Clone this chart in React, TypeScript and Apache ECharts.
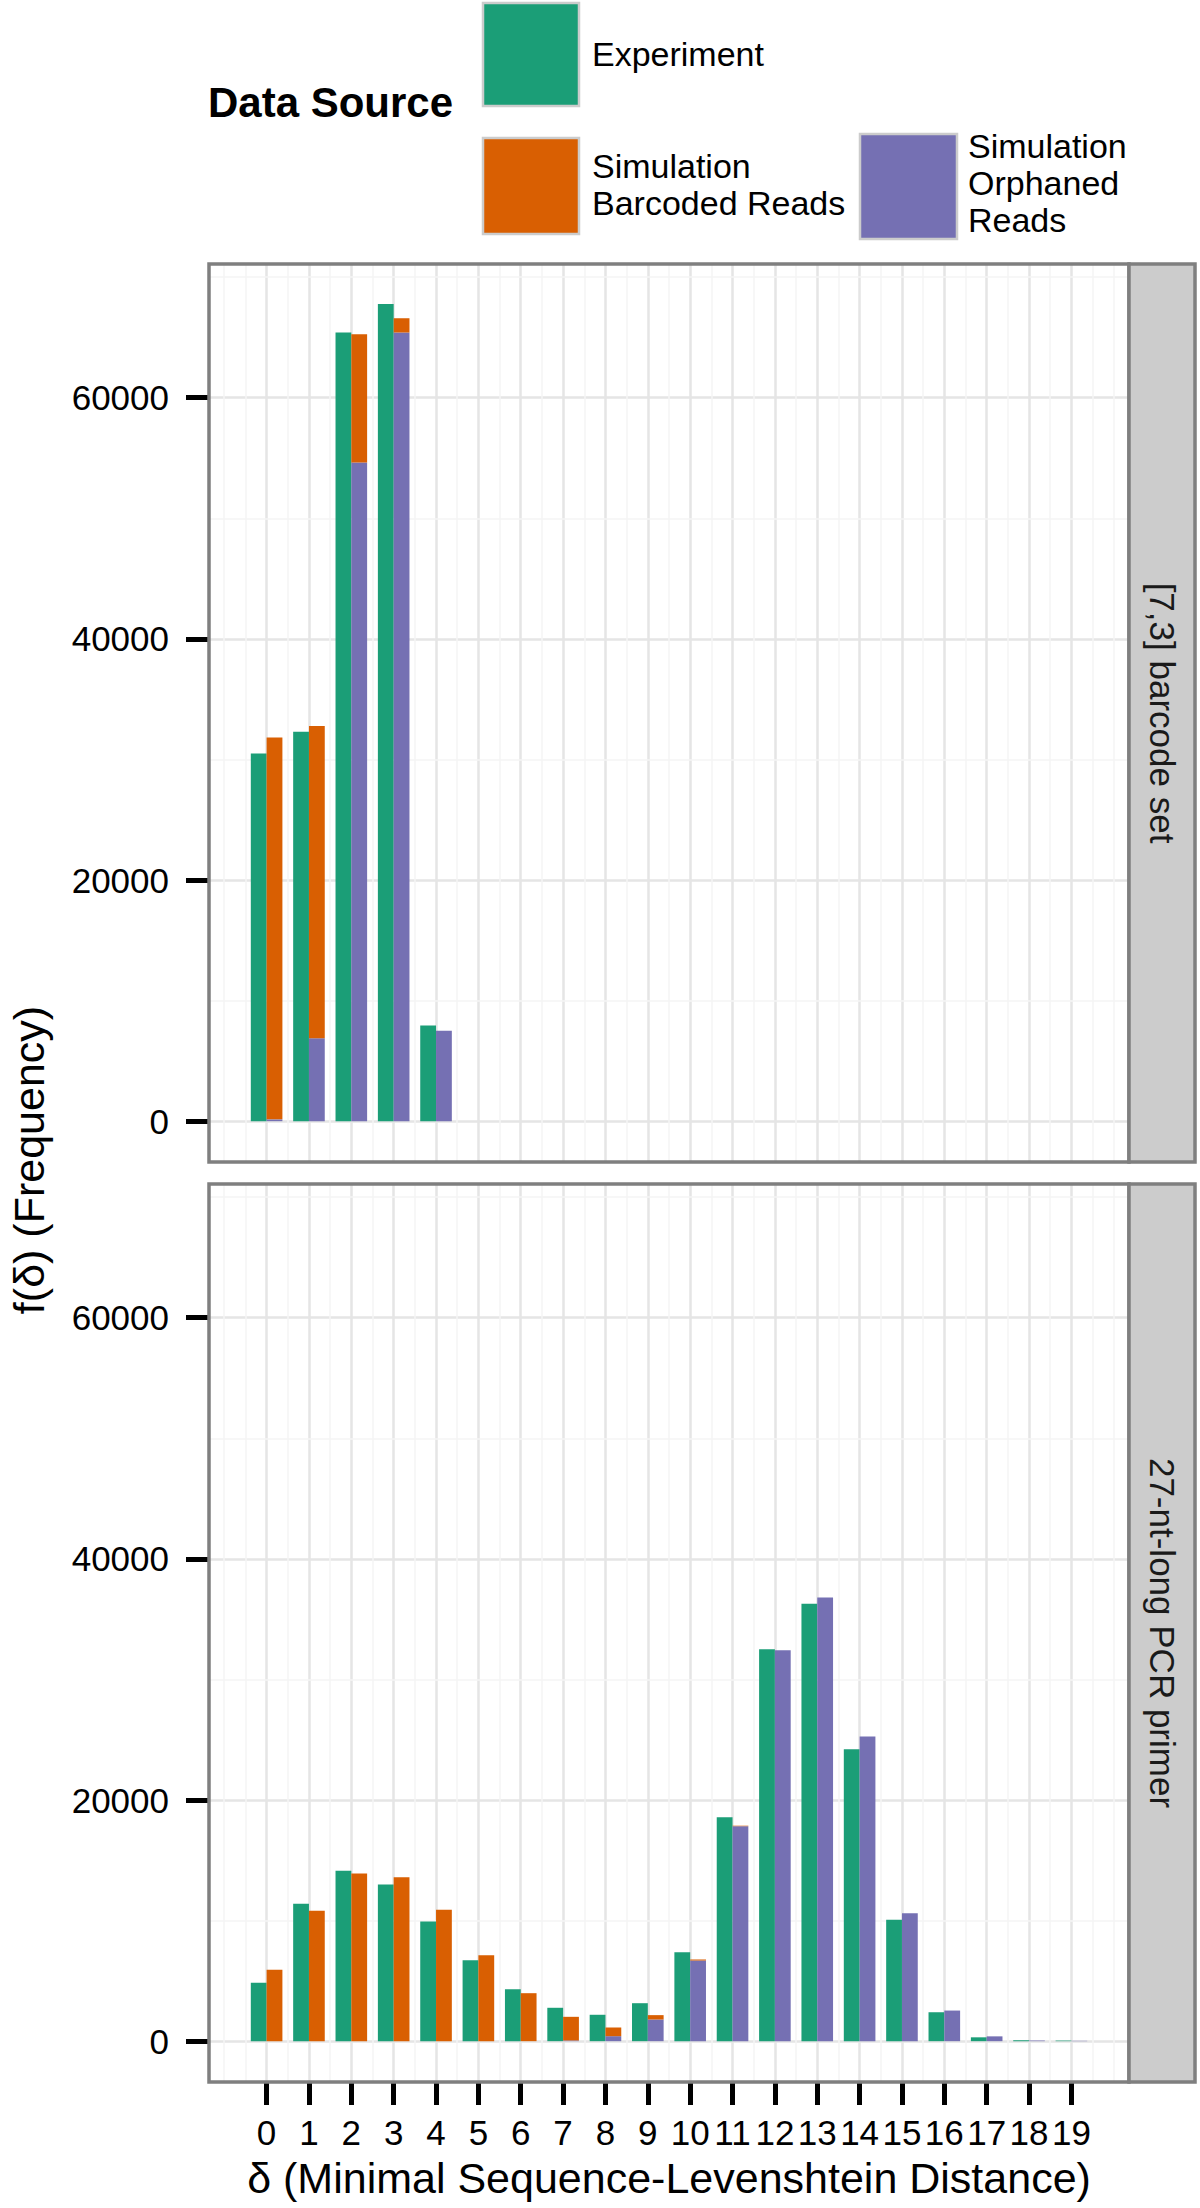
import React, { useEffect, useRef } from 'react';
import * as echarts from 'echarts';

// ---------- data ----------
const deltas = [0, 1, 2, 3, 4, 5, 6, 7, 8, 9, 10, 11, 12, 13, 14, 15, 16, 17, 18, 19];
const xTickValues = [0, 1, 2, 3, 4, 5, 6, 7, 8, 9, 10, 11, 12, 13, 14, 15, 16, 17, 18, 19];
const yTickValues = [0, 20000, 40000, 60000];
const xMinorGrid = [-1, -0.5, 0.5, 1.5, 2.5, 3.5, 4.5, 5.5, 6.5, 7.5, 8.5, 9.5, 10.5, 11.5, 12.5, 13.5, 14.5, 15.5, 16.5, 17.5, 18.5, 19.5, 20];
const yMinorGrid = [10000, 30000, 50000, 70000];

const panelLabels = ['[7,3] barcode set', '27-nt-long PCR primer'];
const sourceNames = ['Experiment', 'Simulation Barcoded Reads', 'Simulation Orphaned Reads'];
const legendLabels = ['Experiment', 'Simulation\nBarcoded Reads', 'Simulation\nOrphaned\nReads'];

// [7,3] barcode set panel
const topExperiment = [30490, 32296, 65404, 67778, 7927, 0, 0, 0, 0, 0, 0, 0, 0, 0, 0, 0, 0, 0, 0, 0];
const topOrphaned = [150, 6885, 54622, 65404, 7497, 0, 0, 0, 0, 0, 0, 0, 0, 0, 0, 0, 0, 0, 0, 0];
const topBarcoded = [31665, 25885, 10641, 1183, 0, 0, 0, 0, 0, 0, 0, 0, 0, 0, 0, 0, 0, 0, 0, 0];

// 27-nt-long PCR primer panel
const bottomExperiment = [4840, 11390, 14130, 12990, 9920, 6720, 4310, 2770, 2190, 3150, 7370, 18570, 32500, 36270, 24210, 10060, 2400, 320, 80, 50];
const bottomOrphaned = [0, 0, 0, 0, 0, 0, 0, 60, 415, 1800, 6690, 17830, 32420, 36790, 25270, 10610, 2540, 400, 55, 30];
const bottomBarcoded = [5920, 10810, 13910, 13600, 10900, 7130, 3980, 1960, 720, 360, 85, 40, 0, 0, 0, 0, 0, 0, 0, 0];

const panelData = [
  { experiment: topExperiment, orphaned: topOrphaned, barcoded: topBarcoded },
  { experiment: bottomExperiment, orphaned: bottomOrphaned, barcoded: bottomBarcoded },
];

// ---------- styling / layout ----------
const FONT = "'Liberation Sans', Arial, Helvetica, sans-serif";
const COLORS = { experiment: '#1b9e77', barcoded: '#d95f02', orphaned: '#7570b3' };
const X_MIN = -1.36;
const X_MAX = 20.36;
const Y_MIN = -3385;
const Y_MAX = 71085;
const PANEL_LEFT = 209;
const PANEL_WIDTH = 920;
const PANEL_HEIGHT = 898;
const PANEL_TOPS = [264, 1184];
const STRIP_WIDTH = 66;
const BORDER = '#7f7f7f';

function buildOption() {
  const grids = PANEL_TOPS.map((top) => ({
    left: PANEL_LEFT,
    top,
    width: PANEL_WIDTH,
    height: PANEL_HEIGHT,
    containLabel: false,
  }));

  const xAxes = PANEL_TOPS.map((_, i) => {
    const isBottom = i === PANEL_TOPS.length - 1;
    return {
      type: 'value',
      gridIndex: i,
      position: 'bottom',
      min: X_MIN,
      max: X_MAX,
      splitNumber: 22,
      axisLine: { show: false, onZero: false },
      axisTick: {
        show: isBottom,
        customValues: xTickValues,
        length: 23,
        lineStyle: { color: '#000', width: 5 },
      },
      axisLabel: {
        show: isBottom,
        customValues: xTickValues,
        margin: 33,
        fontSize: 35,
        fontFamily: FONT,
        color: '#000',
        formatter: (v: number) => String(v),
      },
      splitLine: { show: true, lineStyle: { color: '#e5e5e5', width: 2.5 } },
    };
  });

  const yAxes = PANEL_TOPS.map((_, i) => ({
    type: 'value',
    gridIndex: i,
    position: 'left',
    min: Y_MIN,
    max: Y_MAX,
    splitNumber: 4,
    axisLine: { show: false, onZero: false },
    axisTick: {
      show: true,
      customValues: yTickValues,
      length: 23,
      lineStyle: { color: '#000', width: 5 },
    },
    axisLabel: {
      show: true,
      customValues: yTickValues,
      margin: 40,
      fontSize: 35,
      fontFamily: FONT,
      color: '#000',
      formatter: (v: number) => String(v),
    },
    splitLine: { show: true, lineStyle: { color: '#e5e5e5', width: 2.5 } },
  }));

  // data rows are [frequency, delta]; encode maps delta to x, frequency to y,
  // so that the stack is computed on the frequency dimension
  const rows = (vals: number[]) => deltas.map((d, k) => [vals[k], d]);

  const series: any[] = [];
  panelData.forEach((pd, i) => {
    series.push({
      type: 'line',
      name: 'minor-grid-' + i,
      xAxisIndex: i,
      yAxisIndex: i,
      data: [],
      silent: true,
      z: 1,
      markLine: {
        silent: true,
        z: 1,
        symbol: ['none', 'none'],
        label: { show: false },
        emphasis: { disabled: true },
        lineStyle: { color: '#f4f4f4', width: 1.5, type: 'solid' },
        data: [
          ...xMinorGrid.map((v) => ({ xAxis: v })),
          ...yMinorGrid.map((v) => ({ yAxis: v })),
        ],
      },
    });
    series.push({
      type: 'bar',
      name: sourceNames[0],
      xAxisIndex: i,
      yAxisIndex: i,
      barWidth: '37.3%',
      barGap: '0%',
      encode: { x: 1, y: 0 },
      itemStyle: { color: COLORS.experiment },
      data: rows(pd.experiment),
    });
    series.push({
      type: 'bar',
      name: sourceNames[2],
      xAxisIndex: i,
      yAxisIndex: i,
      stack: 'sim' + i,
      barWidth: '37.3%',
      barGap: '0%',
      encode: { x: 1, y: 0 },
      itemStyle: { color: COLORS.orphaned },
      data: rows(pd.orphaned),
    });
    series.push({
      type: 'bar',
      name: sourceNames[1],
      xAxisIndex: i,
      yAxisIndex: i,
      stack: 'sim' + i,
      barWidth: '37.3%',
      barGap: '0%',
      encode: { x: 1, y: 0 },
      itemStyle: { color: COLORS.barcoded },
      data: rows(pd.barcoded),
    });
  });

  const text = (
    t: string,
    x: number,
    y: number,
    size: number,
    opts: { rotation?: number; align?: string; weight?: string; lineHeight?: number; fill?: string } = {}
  ) => ({
    type: 'text',
    x,
    y,
    rotation: opts.rotation || 0,
    z: 110,
    silent: true,
    style: {
      text: t,
      fontSize: size,
      fontFamily: FONT,
      fontWeight: opts.weight || 'normal',
      fill: opts.fill || '#000',
      align: opts.align || 'center',
      verticalAlign: 'middle',
      textAlign: opts.align || 'center',
      textVerticalAlign: 'middle',
      lineHeight: opts.lineHeight || size,
    },
  });

  const graphics: any[] = [];
  PANEL_TOPS.forEach((top, i) => {
    graphics.push({
      type: 'rect',
      z: 100,
      silent: true,
      shape: { x: PANEL_LEFT, y: top, width: PANEL_WIDTH, height: PANEL_HEIGHT },
      style: { fill: 'none', stroke: BORDER, lineWidth: 3.5 },
    });
    graphics.push({
      type: 'rect',
      z: 100,
      silent: true,
      shape: { x: PANEL_LEFT + PANEL_WIDTH, y: top, width: STRIP_WIDTH, height: PANEL_HEIGHT },
      style: { fill: '#cccccc', stroke: BORDER, lineWidth: 3.5 },
    });
    graphics.push(
      text(panelLabels[i], PANEL_LEFT + PANEL_WIDTH + STRIP_WIDTH / 2, top + PANEL_HEIGHT / 2, 35, {
        rotation: -Math.PI / 2,
        fill: '#1a1a1a',
      })
    );
  });

  // axis titles
  graphics.push(text('f(\u03b4) (Frequency)', 29, 1160, 43, { rotation: Math.PI / 2 }));
  graphics.push(text('\u03b4 (Minimal Sequence-Levenshtein Distance)', PANEL_LEFT + PANEL_WIDTH / 2, 2178, 43));

  // legend
  graphics.push(text('Data Source', 208, 102, 42, { align: 'left', weight: 'bold' }));
  const keys = [
    { x: 483, y: 3, w: 96, h: 103, color: COLORS.experiment, tx: 592, ty: 54, label: legendLabels[0] },
    { x: 483, y: 138, w: 96, h: 96, color: COLORS.barcoded, tx: 592, ty: 184, label: legendLabels[1] },
    { x: 860, y: 134, w: 97, h: 105, color: COLORS.orphaned, tx: 968, ty: 183, label: legendLabels[2] },
  ];
  keys.forEach((k) => {
    graphics.push({
      type: 'rect',
      z: 100,
      silent: true,
      shape: { x: k.x, y: k.y, width: k.w, height: k.h },
      style: { fill: k.color, stroke: '#cccccc', lineWidth: 2.5 },
    });
    graphics.push(text(k.label, k.tx, k.ty, 34, { align: 'left', lineHeight: 37 }));
  });

  return {
    animation: false,
    backgroundColor: '#ffffff',
    grid: grids,
    xAxis: xAxes,
    yAxis: yAxes,
    series,
    graphic: { elements: graphics },
  };
}

export default function App() {
  const ref = useRef<HTMLDivElement>(null);
  useEffect(() => {
    if (!ref.current) return;
    const chart = echarts.init(ref.current, null, { renderer: 'svg', width: 1200, height: 2208 });
    chart.setOption(buildOption() as any);
    return () => {
      chart.dispose();
    };
  }, []);
  return (
    <div
      ref={ref}
      style={{ position: 'absolute', left: 0, top: 0, width: 1200, height: 2208, background: '#fff' }}
    />
  );
}
